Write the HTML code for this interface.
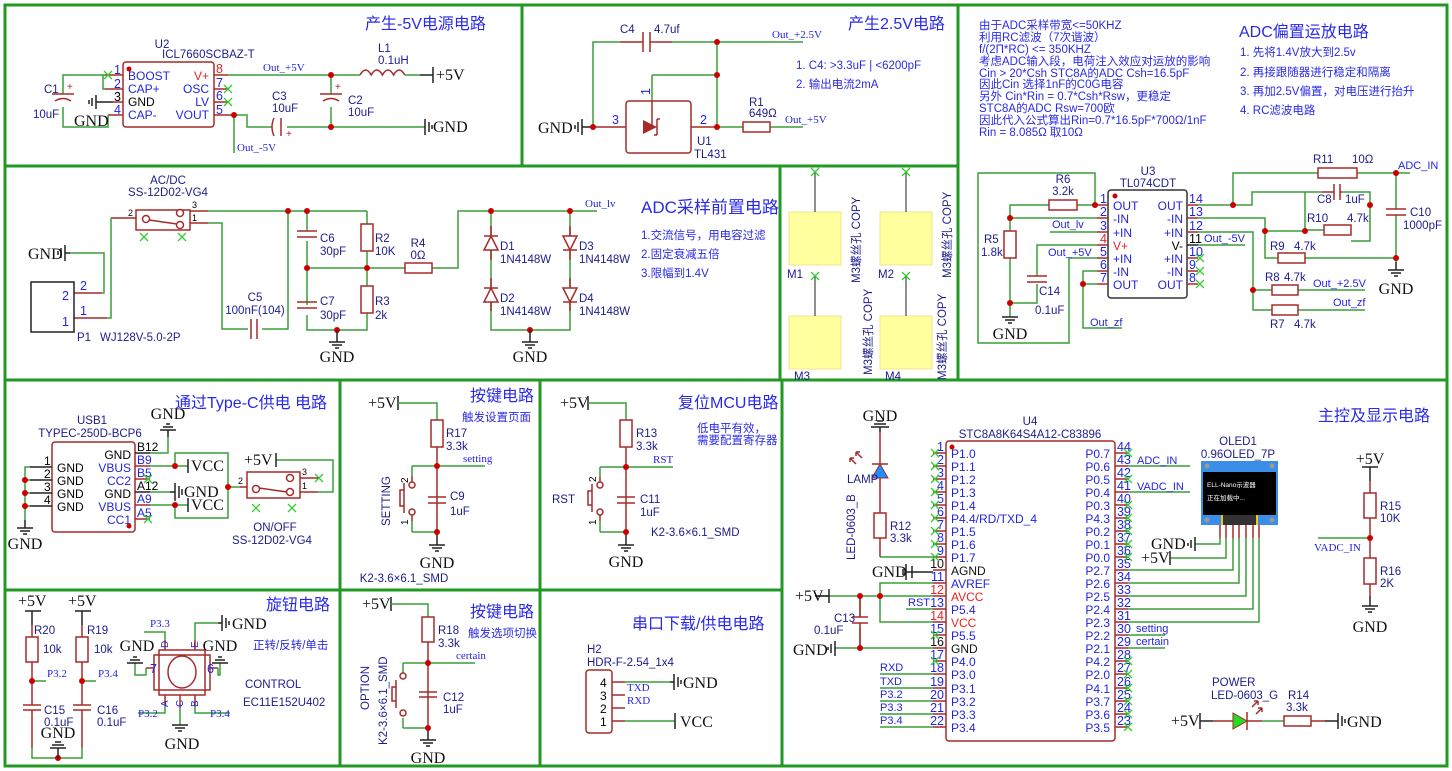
<!DOCTYPE html>
<html><head><meta charset="utf-8"><style>
body{margin:0;background:#fff}
svg{display:block}
.f{stroke:#229922;stroke-width:3;fill:none}
.w{stroke:#3a9d3a;stroke-width:1.5;fill:none}
.p{stroke:#a52a2a;stroke-width:1.5;fill:none}
.r{stroke:#a52a2a;stroke-width:1.5;fill:#fff}
.k{stroke:#222;stroke-width:1.5;fill:none}
.x{stroke:#33cc33;stroke-width:1.3}
.j{fill:#cc0000}
text{font-family:"Liberation Sans","Noto Sans CJK SC",sans-serif}
.t{fill:#2a2ae6;font-size:16px}
.n{fill:#2a2ae6;font-size:11.5px}
.l{fill:#1c1c8c;font-size:11.5px}
.b{fill:#2424e0;font-size:12px}
.s{font-family:"Liberation Serif",serif;fill:#111;font-size:16px}
.nl{font-family:"Liberation Serif",serif;fill:#2424e0;font-size:11px}
.pn{fill:#2424e0;font-size:12.5px}
</style></head><body>
<svg width="1452" height="771" viewBox="0 0 1452 771" xmlns="http://www.w3.org/2000/svg">
<!-- frames -->
<rect x="5" y="5" width="1442" height="761" class="f"/>
<path class="f" d="M5 166H958M522 5V166M958 5V380M780 166V380M5 380H1447M340 380V766M540 380V766M782 380V766M5 590H782"/>

<!-- ===== -5V panel ===== -->
<text class="t" x="365" y="29">产生-5V电源电路</text>
<rect x="123" y="62" width="91" height="65" rx="3" class="r"/>
<circle cx="129" cy="69" r="2.5" class="j"/>
<text class="l" x="162" y="48" text-anchor="middle">U2</text>
<text class="l" x="162" y="58">ICL7660SCBAZ-T</text>
<path class="p" d="M105 75H123M105 89H123M113 102H123M108 115H123M214 75H228M214 89H228M214 102H228M214 115H234"/>
<text class="pn" x="114" y="74">1</text><text class="pn" x="114" y="88">2</text><text x="114" y="101" style="font-size:12.5px">3</text><text class="pn" x="114" y="114">4</text>
<text class="b" x="128" y="80">BOOST</text><text class="b" x="128" y="93">CAP+</text><text x="128" y="106" style="font-size:12px">GND</text><text class="b" x="128" y="119">CAP-</text>
<text x="209" y="80" text-anchor="end" style="font-size:12px;fill:#e22">V+</text><text class="b" x="209" y="93" text-anchor="end">OSC</text><text class="b" x="209" y="106" text-anchor="end">LV</text><text class="b" x="209" y="119" text-anchor="end">VOUT</text>
<text x="216" y="73" style="font-size:12.5px;fill:#e22">8</text><text class="pn" x="216" y="87">7</text><text class="pn" x="216" y="100">6</text><text class="pn" x="216" y="114">5</text>
<path class="x" d="M104 71l8 8M112 71l-8 8M224 85l8 8M232 85l-8 8M224 98l8 8M232 98l-8 8"/>
<path class="w" d="M63 94V75H105M103 75V89H105M63 107V127H108V115M228 75H360M405 75H420M234 115H247V127H272M287 127H425M234 115V153M331 75V94M331 107V127"/>
<path class="k" d="M420 75H433M433 67V83M113 102H96M96 95V109M92 98V106M89 100V104M425 119V135M429 122V132M432 125V129"/>
<path class="p" d="M52 94H74M55 101Q63 96 71 101M320 94H342M323 101Q331 96 339 101M274 118Q270 127 274 136M281 118V136M360 75q5.6-10 11.2 0q5.6-10 11.2 0q5.6-10 11.2 0q5.6-10 11.2 0"/>
<text x="67" y="90" style="font-size:10px;fill:#a52a2a">+</text><text x="335" y="90" style="font-size:10px;fill:#a52a2a">+</text><text x="286" y="137" style="font-size:10px;fill:#a52a2a">+</text>
<circle cx="234" cy="115" r="3" class="j"/><circle cx="331" cy="75" r="3" class="j"/><circle cx="331" cy="127" r="3" class="j"/>
<text class="l" x="44" y="93">C1</text><text class="l" x="33" y="118">10uF</text>
<text class="l" x="272" y="100">C3</text><text class="l" x="272" y="112">10uF</text>
<text class="l" x="348" y="104">C2</text><text class="l" x="348" y="116">10uF</text>
<text class="l" x="378" y="52">L1</text><text class="l" x="378" y="64">0.1uH</text>
<text class="s" x="74" y="126">GND</text><text class="s" x="436" y="80">+5V</text><text class="s" x="433" y="132">GND</text>
<text class="nl" x="263" y="71">Out_+5V</text><text class="nl" x="237" y="151">Out_-5V</text>

<!-- ===== 2.5V panel ===== -->
<text class="t" x="848" y="29">产生2.5V电路</text>
<path class="w" d="M593 127V42H620M672 42H803M717 42V127M652 75H717M652 75V101M717 127H743M770 127H803"/>
<path class="p" d="M620 42H643M650 42H672M643 32V52M650 32V52M593 127H626M691 127H717M652 101V127"/>
<path class="k" d="M593 127H582M582 119V135M578 122V132M575 125V129"/>
<rect x="626" y="101" width="65" height="52" rx="3" class="p"/>
<path d="M643 120L657 127L643 134Z" fill="#a52a2a"/><path class="p" d="M657 119V135M657 119H660M657 135H654"/>
<rect x="743" y="122" width="27" height="10" class="r"/>
<circle cx="593" cy="127" r="3" class="j"/><circle cx="717" cy="42" r="3" class="j"/><circle cx="717" cy="75" r="3" class="j"/><circle cx="717" cy="127" r="3" class="j"/>
<text class="s" x="538" y="133">GND</text>
<text class="pn" x="612" y="124">3</text><text class="pn" x="700" y="124">2</text><text class="pn" x="650" y="95" transform="rotate(-90 650 95)">1</text>
<text class="l" x="697" y="145">U1</text><text class="l" x="694" y="158">TL431</text>
<text class="l" x="620" y="33">C4</text><text class="l" x="654" y="33">4.7uf</text>
<text class="l" x="749" y="106">R1</text><text class="l" x="749" y="117">649Ω</text>
<text class="nl" x="772" y="38">Out_+2.5V</text><text class="nl" x="785" y="123">Out_+5V</text>
<text class="n" x="796" y="69">1. C4: &gt;3.3uF | &lt;6200pF</text><text class="n" x="796" y="88">2. 输出电流2mA</text>

<!-- ===== ADC front panel ===== -->
<text class="t" x="641" y="213" style="font-size:17px">ADC采样前置电路</text>
<text class="n" x="641" y="239">1.交流信号，用电容过滤</text><text class="n" x="641" y="258">2.固定衰减五倍</text><text class="n" x="641" y="277">3.限幅到1.4V</text>
<rect x="136" y="210" width="54" height="20" class="r"/>
<circle cx="146" cy="219" r="3.5" class="r"/><circle cx="180" cy="213" r="3.5" class="r"/><circle cx="180" cy="225" r="3.5" class="r"/><path class="p" d="M149 220L177 224"/>
<text class="l" x="168" y="184" text-anchor="middle">AC/DC</text><text class="l" x="168" y="196" text-anchor="middle">SS-12D02-VG4</text>
<path class="p" d="M111 218H136M190 211H208M190 223H208M74 293H102M74 318H107"/>
<path class="x" d="M140 233l8 8M148 233l-8 8M178 233l8 8M186 233l-8 8"/>
<text x="128" y="216" style="font-size:9px">2</text><text x="192" y="208" style="font-size:9px">3</text><text x="192" y="221" style="font-size:9px">1</text>
<rect x="31" y="282" width="43" height="50" class="k"/>
<text class="pn" x="62" y="300">2</text><text class="pn" x="62" y="326">1</text><text class="pn" x="80" y="290">2</text><text class="pn" x="80" y="315">1</text>
<text class="l" x="77" y="341">P1</text><text class="l" x="100" y="341">WJ128V-5.0-2P</text>
<path class="w" d="M111 218V318H107M102 293H104V253H70M208 211H288M288 211H367M208 223H222V329H248M262 329H288V211M307 211V231M307 241V305M307 315V330H367V313M367 211V224M367 251V286M307 268H405M432 268H458V211H597M491 211V235M491 250V287M491 302V330H570V302M570 287V250M570 235V211"/>
<path class="k" d="M70 253H65M65 245V261M61 248V258M58 251V255"/>
<text class="s" x="28" y="259">GND</text>
<path class="p" d="M251 319V339M257 319V339M297 231H317M297 237H317M297 302H317M297 308H317"/>
<rect x="361" y="224" width="12" height="27" class="r"/><rect x="361" y="286" width="12" height="27" class="r"/><rect x="405" y="263" width="27" height="10" class="r"/>
<path class="p" d="M491 226V260M491 278V311M570 226V260M570 278V311"/>
<path d="M484 250L491 236L498 250Z M484 302L491 288L498 302Z M563 236L570 250L577 236Z M563 288L570 302L577 288Z" fill="#fff" stroke="#a52a2a" stroke-width="1.5"/>
<path class="p" d="M484 236H498M484 288H498M563 250H577M563 302H577"/>
<g class="j"><circle cx="288" cy="211" r="3"/><circle cx="307" cy="211" r="3"/><circle cx="307" cy="268" r="3"/><circle cx="367" cy="268" r="3"/><circle cx="337" cy="330" r="3"/><circle cx="491" cy="211" r="3"/><circle cx="570" cy="211" r="3"/><circle cx="530" cy="330" r="3"/></g>
<path class="k" d="M337 330V342M329 342H345M332 345H342M335 348H339M530 330V342M522 342H538M525 345H535M528 348H532"/>
<text class="s" x="337" y="362" text-anchor="middle">GND</text><text class="s" x="530" y="362" text-anchor="middle">GND</text>
<text class="l" x="255" y="301" text-anchor="middle">C5</text><text class="l" x="255" y="314" text-anchor="middle">100nF(104)</text>
<text class="l" x="320" y="242">C6</text><text class="l" x="320" y="255">30pF</text><text class="l" x="320" y="305">C7</text><text class="l" x="320" y="319">30pF</text>
<text class="l" x="375" y="242">R2</text><text class="l" x="375" y="255">10K</text><text class="l" x="375" y="305">R3</text><text class="l" x="375" y="319">2k</text>
<text class="l" x="418" y="247" text-anchor="middle">R4</text><text class="l" x="418" y="259" text-anchor="middle">0Ω</text>
<text class="l" x="500" y="250">D1</text><text class="l" x="500" y="263">1N4148W</text><text class="l" x="500" y="302">D2</text><text class="l" x="500" y="315">1N4148W</text>
<text class="l" x="579" y="250">D3</text><text class="l" x="579" y="263">1N4148W</text><text class="l" x="579" y="302">D4</text><text class="l" x="579" y="315">1N4148W</text>
<text class="nl" x="585" y="207">Out_lv</text>

<!-- ===== M holes ===== -->
<g fill="#ffff9e" stroke="#f0e68c"><rect x="789" y="212" width="52" height="53"/><rect x="880" y="212" width="52" height="53"/><rect x="789" y="316" width="52" height="53"/><rect x="880" y="316" width="52" height="53"/></g>
<path class="k" d="M815 172V212M906 172V212M815 276V316M906 276V316" style="stroke-width:1"/>
<path class="x" d="M811 168l8 8M819 168l-8 8M902 168l8 8M910 168l-8 8M811 272l8 8M819 272l-8 8M902 272l8 8M910 272l-8 8"/>
<text class="l" x="787" y="278">M1</text><text class="l" x="878" y="278">M2</text><text class="l" x="794" y="380">M3</text><text class="l" x="885" y="380">M4</text>
<text class="l" x="860" y="283" transform="rotate(-90 860 283)">M3螺丝孔 COPY</text>
<text class="l" x="951" y="278" transform="rotate(-90 951 278)">M3螺丝孔 COPY</text>
<text class="l" x="872" y="375" transform="rotate(-90 872 375)">M3螺丝孔 COPY</text>
<text class="l" x="946" y="380" transform="rotate(-90 946 380)">M3螺丝孔 COPY</text>

<!-- ===== ADC bias text ===== -->
<g class="n" style="font-size:11.5px"><text x="979" y="29">由于ADC采样带宽&lt;=50KHZ</text><text x="979" y="41">利用RC滤波（7次谐波）</text><text x="979" y="53">f/(2Π*RC) &lt;= 350KHZ</text><text x="979" y="65">考虑ADC输入段，电荷注入效应对运放的影响</text><text x="979" y="77">Cin &gt; 20*Csh  STC8A的ADC Csh=16.5pF</text><text x="979" y="88">因此Cin 选择1nF的C0G电容</text><text x="979" y="100">另外 Cin*Rin = 0.7*Csh*Rsw，更稳定</text><text x="979" y="112">STC8A的ADC Rsw=700欧</text><text x="979" y="124">因此代入公式算出Rin=0.7*16.5pF*700Ω/1nF</text><text x="979" y="136">Rin = 8.085Ω  取10Ω</text></g>
<text class="t" x="1239" y="37">ADC偏置运放电路</text>
<text class="n" x="1240" y="56">1. 先将1.4V放大到2.5v</text><text class="n" x="1240" y="76">2. 再接跟随器进行稳定和隔离</text><text class="n" x="1240" y="95">3. 再加2.5V偏置，对电压进行抬升</text><text class="n" x="1240" y="114">4. RC滤波电路</text>

<!-- ===== TL074 ===== -->
<rect x="1108" y="190" width="79" height="108" rx="3" class="r" style="stroke:#333"/>
<circle cx="1115" cy="196" r="2.5" class="j"/>
<text class="l" x="1148" y="175" text-anchor="middle">U3</text><text class="l" x="1148" y="187" text-anchor="middle">TL074CDT</text>
<path class="p" d="M1097 205H1108M1097 218H1108M1097 232H1108M1097 245H1108M1097 258H1108M1097 271H1108M1097 284H1108M1187 205H1198M1187 218H1198M1187 232H1198M1187 258H1198M1187 271H1198M1187 284H1198"/>
<path class="k" d="M1187 245H1198"/>
<g class="pn"><text x="1100" y="203">1</text><text x="1100" y="216">2</text><text x="1100" y="230">3</text><text x="1100" y="256">5</text><text x="1100" y="269">6</text><text x="1100" y="282">7</text><text x="1189" y="203">14</text><text x="1189" y="216">13</text><text x="1189" y="230">12</text><text x="1189" y="256">10</text><text x="1189" y="269">9</text><text x="1189" y="282">8</text></g>
<text x="1100" y="243" style="font-size:12.5px;fill:#e22">4</text><text x="1189" y="243" style="font-size:12.5px">11</text>
<g class="b"><text x="1113" y="210">OUT</text><text x="1113" y="223">-IN</text><text x="1113" y="237">+IN</text><text x="1113" y="263">+IN</text><text x="1113" y="276">-IN</text><text x="1113" y="289">OUT</text>
<text x="1183" y="210" text-anchor="end">OUT</text><text x="1183" y="223" text-anchor="end">-IN</text><text x="1183" y="237" text-anchor="end">+IN</text><text x="1183" y="263" text-anchor="end">+IN</text><text x="1183" y="276" text-anchor="end">-IN</text><text x="1183" y="289" text-anchor="end">OUT</text></g>
<text x="1113" y="250" style="font-size:12px;fill:#e22">V+</text><text x="1183" y="250" text-anchor="end" style="font-size:12px">V-</text>
<path class="x" d="M1196 254l8 8M1204 254l-8 8M1196 267l8 8M1204 267l-8 8M1196 280l8 8M1204 280l-8 8"/>
<path class="w" d="M1097 205H1077M1049 205H1010V232M1010 218H1097M1010 258V317M1010 303H1037V284M1037 276V245H1097M1095 205V173H978V343H1069V258H1097M1050 232H1097M1097 271H1083V328H1122M1083 284H1097M1198 205H1233V173H1318M1357 173H1410M1396 173V209M1396 215V262M1233 205H1252V192H1322M1342 192H1370V241H1351M1324 230H1305M1370 205V192M1198 218H1265V258H1278M1305 258H1396M1265 231H1305V192M1198 232H1253V310H1272M1253 290H1272M1298 290H1365M1298 310H1365M1198 245H1245"/>
<rect x="1049" y="200" width="28" height="10" class="r"/><rect x="1004" y="231" width="12" height="27" class="r"/><rect x="1318" y="168" width="39" height="10" class="r"/><rect x="1324" y="225" width="27" height="10" class="r"/><rect x="1278" y="253" width="27" height="10" class="r"/><rect x="1272" y="285" width="26" height="10" class="r"/><rect x="1272" y="305" width="26" height="10" class="r"/>
<path class="p" d="M1027 276H1047M1027 282H1047M1386 209H1406M1386 215H1406M1334 184V200M1340 184V200M1322 192H1334M1340 192H1342"/>
<g class="j"><circle cx="1095" cy="205" r="3"/><circle cx="1010" cy="218" r="3"/><circle cx="1010" cy="303" r="3"/><circle cx="1083" cy="284" r="3"/><circle cx="1233" cy="205" r="3"/><circle cx="1396" cy="173" r="3"/><circle cx="1370" cy="205" r="3"/><circle cx="1305" cy="231" r="3"/><circle cx="1265" cy="231" r="3"/><circle cx="1396" cy="258" r="3"/><circle cx="1253" cy="290" r="3"/></g>
<path class="k" d="M1002 317H1018M1005 320H1015M1008 323H1012M1396 262V270M1388 270H1404M1391 273H1401M1394 276H1398"/>
<text class="s" x="1010" y="339" text-anchor="middle">GND</text><text class="s" x="1396" y="294" text-anchor="middle">GND</text>
<text class="l" x="1063" y="183" text-anchor="middle">R6</text><text class="l" x="1063" y="195" text-anchor="middle">3.2k</text>
<text class="l" x="984" y="243">R5</text><text class="l" x="981" y="256">1.8k</text>
<text class="l" x="1039" y="295">C14</text><text class="l" x="1035" y="314">0.1uF</text>
<text class="l" x="1313" y="163">R11</text><text class="l" x="1352" y="163">10Ω</text>
<text class="l" x="1317" y="203">C8</text><text class="l" x="1345" y="203">1uF</text><text class="l" x="1307" y="222">R10</text><text class="l" x="1347" y="222">4.7k</text>
<text class="l" x="1270" y="250">R9</text><text class="l" x="1294" y="250">4.7k</text><text class="l" x="1265" y="281">R8</text><text class="l" x="1284" y="281">4.7k</text><text class="l" x="1270" y="328">R7</text><text class="l" x="1294" y="328">4.7k</text>
<text class="l" x="1410" y="216">C10</text><text class="l" x="1403" y="229">1000pF</text>
<g class="nl"><text x="1052" y="228">Out_lv</text><text x="1048" y="256">Out_+5V</text><text x="1090" y="326">Out_zf</text><text x="1204" y="242">Out_-5V</text><text x="1398" y="169">ADC_IN</text><text x="1313" y="287">Out_+2.5V</text><text x="1333" y="306">Out_zf</text></g>

<!-- ===== Type-C ===== -->
<text class="t" x="175" y="408">通过Type-C供电 电路</text>
<rect x="52" y="442" width="83" height="90" rx="3" class="r"/><circle cx="129" cy="526" r="2.5" class="j"/>
<text class="l" x="92" y="424" text-anchor="middle">USB1</text><text class="l" x="90" y="437" text-anchor="middle">TYPEC-250D-BCP6</text>
<path class="k" d="M30 467H52M30 480H52M30 493H52M30 506H52M135 453H150M135 492H150"/>
<path class="p" d="M135 466H150M135 479H150M135 505H150M135 519H150"/>
<g style="font-size:12px"><text x="44" y="465">1</text><text x="44" y="478">2</text><text x="44" y="491">3</text><text x="44" y="504">4</text>
<text x="57" y="472">GND</text><text x="57" y="485">GND</text><text x="57" y="498">GND</text><text x="57" y="511">GND</text>
<text x="131" y="459" text-anchor="end">GND</text><text x="131" y="498" text-anchor="end">GND</text>
<text x="137" y="451">B12</text><text x="137" y="490">A12</text></g>
<g class="b"><text x="131" y="472" text-anchor="end">VBUS</text><text x="131" y="485" text-anchor="end">CC2</text><text x="131" y="511" text-anchor="end">VBUS</text><text x="131" y="524" text-anchor="end">CC1</text><text x="137" y="464">B9</text><text x="137" y="477">B5</text><text x="137" y="503">A9</text><text x="137" y="517">A5</text></g>
<path class="x" d="M144 475l8 8M152 475l-8 8M144 515l8 8M152 515l-8 8M252 504l8 8M260 504l-8 8M288 504l8 8M296 504l-8 8M315 474l8 8M323 474l-8 8"/>
<path class="w" d="M30 467H25V520M25 480H30M25 493H30M25 506H30M150 453H168V437M150 466H188M175 466V453H228V518H175V505M150 505H188M150 492H170M228 487H240M318 492H333V460H276"/>
<g class="j"><circle cx="25" cy="480" r="3"/><circle cx="25" cy="493" r="3"/><circle cx="25" cy="506" r="3"/><circle cx="175" cy="466" r="3"/><circle cx="175" cy="505" r="3"/><circle cx="228" cy="487" r="3"/></g>
<path class="k" d="M25 520V528M17 528H33M20 531H30M23 534H27M168 437V430M160 430H176M163 427H173M166 424H170M188 459V473M188 498V512M170 492H175M175 483V501M179 486V498M182 489V495M276 453V467"/>
<text class="s" x="25" y="549" text-anchor="middle">GND</text><text class="s" x="168" y="419" text-anchor="middle">GND</text>
<text class="s" x="191" y="471">VCC</text><text class="s" x="191" y="510">VCC</text><text class="s" x="184" y="497">GND</text><text class="s" x="244" y="465">+5V</text>
<rect x="247" y="472" width="53" height="26" class="r"/>
<circle cx="256" cy="489" r="3.5" class="r"/><circle cx="290" cy="478" r="3.5" class="r"/><circle cx="290" cy="492" r="3.5" class="r"/><path class="p" d="M259 488L287 492M240 487H247M300 478H318M300 492H318"/>
<text x="238" y="484" style="font-size:9px">2</text><text x="302" y="475" style="font-size:9px">3</text><text x="302" y="489" style="font-size:9px">1</text>
<text class="l" x="275" y="531" text-anchor="middle">ON/OFF</text><text class="l" x="272" y="544" text-anchor="middle">SS-12D02-VG4</text>

<!-- ===== 按键 setting ===== -->
<text class="t" x="470" y="401">按键电路</text><text class="n" x="462" y="421">触发设置页面</text>
<text class="s" x="368" y="408">+5V</text>
<path class="k" d="M398 396V410M437 532V545M429 545H445M432 548H442M435 551H439"/>
<path class="w" d="M398 403H437V420M412 466H485M412 466V476M412 532H437M412 521V532"/>
<path class="p" d="M437 447V532M428 497H446M428 503H446M412 476V482M412 514V521M404 483V513M404 490H400V506H404"/>
<circle cx="412" cy="485" r="3" class="r"/><circle cx="412" cy="512" r="3" class="r"/>
<rect x="431" y="420" width="12" height="27" class="r"/>
<circle cx="437" cy="466" r="3" class="j"/><circle cx="437" cy="532" r="3" class="j"/>
<text class="l" x="446" y="437">R17</text><text class="l" x="446" y="450">3.3k</text><text class="l" x="450" y="500">C9</text><text class="l" x="450" y="515">1uF</text>
<text class="nl" x="463" y="462">setting</text>
<text class="s" x="437" y="568" text-anchor="middle">GND</text>
<text class="l" x="404" y="582" text-anchor="middle">K2-3.6×6.1_SMD</text>
<text class="l" x="390" y="526" transform="rotate(-90 390 526)">SETTING</text>
<text x="408" y="483" style="font-size:10px" transform="rotate(-90 408 483)">2</text><text x="408" y="525" style="font-size:10px" transform="rotate(-90 408 525)">1</text>

<!-- ===== 复位 ===== -->
<text class="t" x="678" y="408">复位MCU电路</text><text class="n" x="697" y="432">低电平有效，</text><text class="n" x="697" y="444">需要配置寄存器</text>
<text class="s" x="560" y="408">+5V</text>
<path class="k" d="M588 396V410M626 532V545M618 545H634M621 548H631M624 551H628"/>
<path class="w" d="M588 403H626V420M600 467H673M600 467V477M600 532H626M600 521V532"/>
<path class="p" d="M626 447V532M617 497H635M617 503H635M600 477V482M600 514V521M592 484V512M592 491H588V505H592"/>
<circle cx="600" cy="485" r="3" class="r"/><circle cx="600" cy="512" r="3" class="r"/>
<rect x="620" y="420" width="12" height="27" class="r"/>
<circle cx="626" cy="467" r="3" class="j"/><circle cx="626" cy="532" r="3" class="j"/>
<text class="l" x="636" y="437">R13</text><text class="l" x="636" y="450">3.3k</text><text class="l" x="640" y="503">C11</text><text class="l" x="640" y="516">1uF</text>
<text class="nl" x="653" y="463">RST</text><text class="l" x="552" y="503">RST</text>
<text class="s" x="626" y="567" text-anchor="middle">GND</text>
<text class="l" x="651" y="536">K2-3.6×6.1_SMD</text>
<text x="596" y="482" style="font-size:10px" transform="rotate(-90 596 482)">2</text><text x="596" y="525" style="font-size:10px" transform="rotate(-90 596 525)">1</text>

<!-- ===== 旋钮 ===== -->
<text class="t" x="266" y="610">旋钮电路</text><text class="n" x="253" y="649">正转/反转/单击</text>
<text class="l" x="245" y="688">CONTROL</text><text class="l" x="243" y="706">EC11E152U402</text>
<text class="s" x="18" y="606">+5V</text><text class="s" x="68" y="606">+5V</text>
<path class="k" d="M25 611H41M32 611V625M75 611H91M82 611V625"/>
<path class="p" d="M32 625V705M32 710V748M82 625V705M82 710V748M23 705H41M23 710H41M73 705H91M73 710H91"/>
<rect x="26" y="637" width="12" height="25" class="r"/><rect x="76" y="637" width="12" height="25" class="r"/>
<path class="w" d="M32 748V758H82V748M32 681H46M82 681H96"/>
<g class="j"><circle cx="32" cy="681" r="3"/><circle cx="82" cy="681" r="3"/><circle cx="58" cy="758" r="3"/></g>
<path class="k" d="M58 758V748M50 748H66M52 745H64M55 742H61"/>
<text class="s" x="58" y="738" text-anchor="middle">GND</text>
<text class="l" x="34" y="634">R20</text><text class="l" x="43" y="653">10k</text><text class="l" x="87" y="634">R19</text><text class="l" x="94" y="653">10k</text>
<text class="l" x="44" y="714">C15</text><text class="l" x="44" y="726">0.1uF</text><text class="l" x="97" y="714">C16</text><text class="l" x="97" y="726">0.1uF</text>
<text class="nl" x="47" y="677">P3.2</text><text class="nl" x="98" y="677">P3.4</text>
<rect x="159" y="650" width="46" height="45" class="r"/><rect x="154" y="655" width="56" height="35" class="r" style="fill:none"/>
<ellipse cx="182" cy="672" rx="14" ry="16" class="r"/>
<path class="p" d="M165 650V640M195 650V640M165 695V705M180 695V708M195 695V705M154 668H146M210 668H218"/>
<path class="w" d="M144 632H165V640M195 640V623H218M165 705V713H138M195 705V713H230M146 668V675H135V663M218 668V675H220V663M180 708V725"/>
<path class="k" d="M218 623H222M222 615V631M226 618V628M229 621V625M127 663H143M130 660H140M133 657H137M212 663H228M215 660H225M218 657H222M172 725H188M175 728H185M178 731H182"/>
<text class="s" x="232" y="629">GND</text><text class="s" x="137" y="651" text-anchor="middle">GND</text><text class="s" x="220" y="651" text-anchor="middle">GND</text><text class="s" x="182" y="749" text-anchor="middle">GND</text>
<text class="nl" x="150" y="627">P3.3</text><text class="nl" x="138" y="717">P3.2</text><text class="nl" x="210" y="717">P3.4</text>
<text class="pn" x="150" y="673">7</text><text class="pn" x="207" y="673">6</text>
<g class="pn" style="font-size:10px"><text x="168" y="648" transform="rotate(-90 168 648)">D</text><text x="198" y="648" transform="rotate(-90 198 648)">E</text><text x="168" y="707" transform="rotate(-90 168 707)">A</text><text x="183" y="707" transform="rotate(-90 183 707)">C</text><text x="198" y="707" transform="rotate(-90 198 707)">B</text></g>

<!-- ===== 按键 option ===== -->
<text class="t" x="470" y="617">按键电路</text><text class="n" x="468" y="637">触发选项切换</text>
<text class="s" x="362" y="609">+5V</text>
<path class="k" d="M391 597V611M428 728V740M420 740H436M423 743H433M426 746H430"/>
<path class="w" d="M391 604H428V617M403 663H475M403 663V673M403 728H428M403 718V728"/>
<path class="p" d="M428 642V728M419 692H437M419 697H437M396 680V708M396 687H392V701H396"/>
<circle cx="403" cy="676" r="3" class="r"/><circle cx="403" cy="713" r="3" class="r"/>
<rect x="422" y="617" width="12" height="25" class="r"/>
<circle cx="428" cy="663" r="3" class="j"/><circle cx="428" cy="728" r="3" class="j"/>
<text class="l" x="438" y="634">R18</text><text class="l" x="438" y="647">3.3k</text><text class="l" x="443" y="701">C12</text><text class="l" x="443" y="713">1uF</text>
<text class="nl" x="456" y="659">certain</text>
<text class="s" x="428" y="763" text-anchor="middle">GND</text>
<text class="l" x="369" y="710" transform="rotate(-90 369 710)">OPTION</text>
<text class="l" x="387" y="745" transform="rotate(-90 387 745)">K2-3.6×6.1_SMD</text>

<!-- ===== 串口 ===== -->
<text class="t" x="632" y="629">串口下载/供电电路</text>
<text class="l" x="587" y="653">H2</text><text class="l" x="587" y="666">HDR-F-2.54_1x4</text>
<rect x="586" y="670" width="26" height="63" rx="3" class="r"/>
<g style="font-size:12px"><text x="600" y="687">4</text><text x="600" y="700">3</text><text x="600" y="713">2</text><text x="600" y="726">1</text></g>
<path class="p" d="M612 682H625M612 695H625M612 708H625M612 721H625"/>
<path class="w" d="M625 682H670M625 721H675"/>
<path class="k" d="M670 682H674M674 674V690M678 677V687M681 680V684M675 713V729"/>
<text class="s" x="683" y="688">GND</text><text class="s" x="680" y="727">VCC</text>
<text class="nl" x="627" y="691">TXD</text><text class="nl" x="627" y="704">RXD</text>

<!-- ===== Main MCU ===== -->
<text class="t" x="1318" y="421">主控及显示电路</text>
<rect x="946" y="441" width="169" height="300" rx="3" class="r"/><circle cx="952" cy="447" r="2.5" class="j"/>
<text class="l" x="1030" y="425" text-anchor="middle">U4</text><text class="l" x="1030" y="438" text-anchor="middle">STC8A8K64S4A12-C83896</text>
<g class="p">
<path d="M933 453H946M933 466H946M933 479H946M933 492H946M933 505H946M933 518H946M933 531H946M933 544H946M933 557H946M933 570H946M933 583H946M933 596H946M933 609H946M933 622H946M933 635H946M933 648H946M933 661H946M933 674H946M933 688H946M933 701H946M933 714H946M933 727H946"/>
<path d="M1115 453H1128M1115 466H1128M1115 479H1128M1115 492H1128M1115 505H1128M1115 518H1128M1115 531H1128M1115 544H1128M1115 557H1128M1115 570H1128M1115 583H1128M1115 596H1128M1115 609H1128M1115 622H1128M1115 635H1128M1115 648H1128M1115 661H1128M1115 674H1128M1115 688H1128M1115 701H1128M1115 714H1128M1115 727H1128"/></g>
<g class="pn" text-anchor="end"><text x="944" y="451">1</text><text x="944" y="464">2</text><text x="944" y="477">3</text><text x="944" y="490">4</text><text x="944" y="503">5</text><text x="944" y="516">6</text><text x="944" y="529">7</text><text x="944" y="542">8</text><text x="944" y="555">9</text><text x="944" y="568" style="fill:#111">10</text><text x="944" y="581">11</text><text x="944" y="594" style="fill:#e22">12</text><text x="944" y="607">13</text><text x="944" y="620" style="fill:#e22">14</text><text x="944" y="633">15</text><text x="944" y="646" style="fill:#111">16</text><text x="944" y="659">17</text><text x="944" y="672">18</text><text x="944" y="686">19</text><text x="944" y="699">20</text><text x="944" y="712">21</text><text x="944" y="725">22</text></g>
<g class="pn"><text x="1117" y="451">44</text><text x="1117" y="464">43</text><text x="1117" y="477">42</text><text x="1117" y="490">41</text><text x="1117" y="503">40</text><text x="1117" y="516">39</text><text x="1117" y="529">38</text><text x="1117" y="542">37</text><text x="1117" y="555">36</text><text x="1117" y="568">35</text><text x="1117" y="581">34</text><text x="1117" y="594">33</text><text x="1117" y="607">32</text><text x="1117" y="620">31</text><text x="1117" y="633">30</text><text x="1117" y="646">29</text><text x="1117" y="659">28</text><text x="1117" y="672">27</text><text x="1117" y="686">26</text><text x="1117" y="699">25</text><text x="1117" y="712">24</text><text x="1117" y="725">23</text></g>
<g class="b"><text x="951" y="458">P1.0</text><text x="951" y="471">P1.1</text><text x="951" y="484">P1.2</text><text x="951" y="497">P1.3</text><text x="951" y="510">P1.4</text><text x="951" y="523">P4.4/RD/TXD_4</text><text x="951" y="536">P1.5</text><text x="951" y="549">P1.6</text><text x="951" y="562">P1.7</text><text x="951" y="575" style="fill:#111">AGND</text><text x="951" y="588">AVREF</text><text x="951" y="601" style="fill:#e22">AVCC</text><text x="951" y="614">P5.4</text><text x="951" y="627" style="fill:#e22">VCC</text><text x="951" y="640">P5.5</text><text x="951" y="653" style="fill:#111">GND</text><text x="951" y="666">P4.0</text><text x="951" y="679">P3.0</text><text x="951" y="693">P3.1</text><text x="951" y="706">P3.2</text><text x="951" y="719">P3.3</text><text x="951" y="732">P3.4</text></g>
<g class="b" text-anchor="end"><text x="1110" y="458">P0.7</text><text x="1110" y="471">P0.6</text><text x="1110" y="484">P0.5</text><text x="1110" y="497">P0.4</text><text x="1110" y="510">P0.3</text><text x="1110" y="523">P4.3</text><text x="1110" y="536">P0.2</text><text x="1110" y="549">P0.1</text><text x="1110" y="562">P0.0</text><text x="1110" y="575">P2.7</text><text x="1110" y="588">P2.6</text><text x="1110" y="601">P2.5</text><text x="1110" y="614">P2.4</text><text x="1110" y="627">P2.3</text><text x="1110" y="640">P2.2</text><text x="1110" y="653">P2.1</text><text x="1110" y="666">P4.2</text><text x="1110" y="679">P2.0</text><text x="1110" y="693">P4.1</text><text x="1110" y="706">P3.7</text><text x="1110" y="719">P3.6</text><text x="1110" y="732">P3.5</text></g>
<g class="x"><path d="M931 449l8 8M939 449l-8 8M931 462l8 8M939 462l-8 8M931 475l8 8M939 475l-8 8M931 488l8 8M939 488l-8 8M931 501l8 8M939 501l-8 8M931 514l8 8M939 514l-8 8M931 527l8 8M939 527l-8 8M931 540l8 8M939 540l-8 8M931 553l8 8M939 553l-8 8M931 631l8 8M939 631l-8 8M931 657l8 8M939 657l-8 8"/>
<path d="M1124 449l8 8M1132 449l-8 8M1124 475l8 8M1132 475l-8 8M1124 501l8 8M1132 501l-8 8M1124 514l8 8M1132 514l-8 8M1124 527l8 8M1132 527l-8 8M1124 540l8 8M1132 540l-8 8M1124 553l8 8M1132 553l-8 8M1124 657l8 8M1132 657l-8 8M1124 670l8 8M1132 670l-8 8M1124 684l8 8M1132 684l-8 8M1124 697l8 8M1132 697l-8 8M1124 710l8 8M1132 710l-8 8M1124 723l8 8M1132 723l-8 8"/></g>
<path class="w" d="M1128 466H1190M1128 492H1190M880 557H933M933 583H880V622H933M815 596H933M860 596V617M860 628V648M835 648H933M906 609H933M880 674H933M880 688H933M880 701H933M880 714H933M880 727H933M1128 635H1165M1128 648H1165M1195 544H1220V538M1170 558H1226V538M1128 570H1233V538M1128 583H1239V538M1128 596H1246V538M1128 609H1253V538M1128 622H1259V538"/>
<path class="p" d="M852 617H868M852 623H868M860 596V617M860 623V648M880 432V513M880 538V557M1220 525V538M1226 525V538M1233 525V538M1239 525V538M1246 525V538M1253 525V538M1259 525V538"/>
<rect x="874" y="513" width="12" height="25" class="r"/>
<path d="M872 478L880 464L888 478Z" fill="#1e90ff" stroke="#a52a2a"/><path class="p" d="M872 464H888M862 458l-6-6M856 452l0 4M856 452l4 0M856 464l-6-6M850 458l0 4M850 458l4 0"/>
<path class="k" d="M880 432V427M871 427H889M874 424H886M877 421H883M906 564V580M912 566V578M903 569V575M906 572H933M829 589V603M815 596H829M835 641V656M831 644V653M828 647V650M1195 537V551M1191 540V548M1188 543V546M1170 551V565"/>
<g class="j"><circle cx="880" cy="596" r="3"/><circle cx="860" cy="596" r="3"/><circle cx="860" cy="648" r="3"/></g>
<text class="s" x="880" y="421" text-anchor="middle">GND</text><text class="s" x="872" y="577">GND</text><text class="s" x="795" y="601">+5V</text><text class="s" x="793" y="655">GND</text>
<text class="l" x="847" y="483">LAMP</text><text class="l" x="855" y="560" transform="rotate(-90 855 560)">LED-0603_B</text>
<text class="l" x="890" y="530">R12</text><text class="l" x="890" y="542">3.3k</text>
<text class="l" x="834" y="622">C13</text><text class="l" x="814" y="634">0.1uF</text>
<g class="nl"><text x="908" y="606">RST</text><text x="880" y="671">RXD</text><text x="880" y="685">TXD</text><text x="880" y="698">P3.2</text><text x="880" y="711">P3.3</text><text x="880" y="724">P3.4</text><text x="1137" y="464">ADC_IN</text><text x="1137" y="490">VADC_IN</text><text x="1136" y="632">setting</text><text x="1136" y="645">certain</text></g>
<!-- OLED -->
<text class="l" x="1238" y="445" text-anchor="middle">OLED1</text><text class="l" x="1238" y="458" text-anchor="middle">0.96OLED_7P</text>
<rect x="1201" y="461" width="77" height="64" fill="#3b8ee8"/>
<rect x="1203" y="472" width="73" height="43" fill="#000"/>
<rect x="1222" y="515" width="35" height="10" fill="#333"/><rect x="1221" y="515" width="2" height="10" fill="#f5c518"/><rect x="1256" y="515" width="2" height="10" fill="#f5c518"/>
<g fill="#999"><circle cx="1207" cy="466" r="2.5"/><circle cx="1272" cy="466" r="2.5"/><circle cx="1207" cy="520" r="2.5"/><circle cx="1272" cy="520" r="2.5"/></g>
<text x="1207" y="487" style="font-size:6.5px;fill:#fff">ELL-Nano示波器</text><text x="1207" y="500" style="font-size:6.5px;fill:#fff">正在加载中...</text>
<text class="s" x="1151" y="549">GND</text><text class="s" x="1141" y="563">+5V</text>
<!-- R15/R16 -->
<text class="s" x="1370" y="464" text-anchor="middle">+5V</text>
<path class="k" d="M1362 467H1378M1370 467V481M1370 596V606M1362 606H1378M1365 609H1375M1368 612H1372"/>
<path class="p" d="M1370 481V596"/>
<rect x="1364" y="493" width="12" height="25" class="r"/><rect x="1364" y="558" width="12" height="26" class="r"/>
<path class="w" d="M1318 538H1370"/><circle cx="1370" cy="538" r="3" class="j"/>
<text class="l" x="1380" y="510">R15</text><text class="l" x="1380" y="522">10K</text><text class="l" x="1380" y="575">R16</text><text class="l" x="1380" y="587">2K</text>
<text class="nl" x="1314" y="551">VADC_IN</text><text class="s" x="1370" y="632" text-anchor="middle">GND</text>
<!-- power LED -->
<text class="l" x="1212" y="686">POWER</text><text class="l" x="1211" y="699">LED-0603_G</text>
<text class="l" x="1288" y="699">R14</text><text class="l" x="1286" y="711">3.3k</text>
<text class="s" x="1171" y="726">+5V</text>
<path class="k" d="M1200 713V729M1200 721H1213M1338 713V729M1342 716V726M1345 719V723M1325 721H1338"/>
<path class="p" d="M1213 721H1233M1247 721H1262M1311 721H1325M1247 712V730M1252 707l6-6M1258 701l-4 0M1258 701l0 4M1256 714l6-6M1262 708l-4 0M1262 708l0 4"/>
<path d="M1233 713L1247 721L1233 729Z" fill="#22dd22" stroke="#a52a2a"/>
<path class="w" d="M1262 721H1284"/>
<rect x="1284" y="716" width="27" height="10" class="r"/>
<text class="s" x="1347" y="727">GND</text>
</svg>
</body></html>
